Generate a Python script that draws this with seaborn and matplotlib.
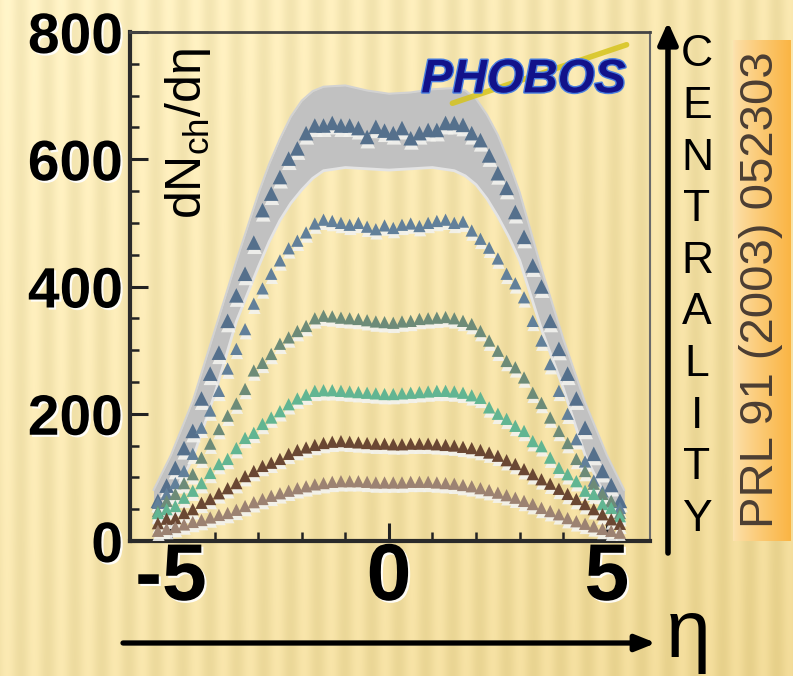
import numpy as np
import pandas as pd
import matplotlib
matplotlib.use("Agg")
import matplotlib.pyplot as plt
import matplotlib.patheffects as pe
from matplotlib.ticker import MultipleLocator
import seaborn as sns

W, H = 793, 676

# pseudorapidity bin centres
eta = [-5.3, -5.1, -4.9, -4.7, -4.5, -4.3, -4.1, -3.9, -3.7, -3.5, -3.3, -3.1, -2.9, -2.7,
       -2.5, -2.3, -2.1, -1.9, -1.7, -1.5, -1.3, -1.1, -0.9, -0.7, -0.5, -0.3, -0.1,
       0.1, 0.3, 0.5, 0.7, 0.9, 1.1, 1.3, 1.5, 1.7, 1.9, 2.1, 2.3, 2.5, 2.7,
       2.9, 3.1, 3.3, 3.5, 3.7, 3.9, 4.1, 4.3, 4.5, 4.7, 4.9, 5.1, 5.3]

centrality = ["0-6%", "6-15%", "15-25%", "25-35%", "35-45%", "45-55%"]

dn_0_6 = [63, 87, 115, 146, 173, 224, 263, 296, 346, 386, 420, 469, 520, 546, 572, 601, 617,
          641, 653, 653, 657, 653, 653, 649, 635, 651, 645,
          641, 649, 633, 641, 646, 646, 657, 657, 654,
          641, 630, 606, 578, 555, 517, 478, 433, 400, 346, 302, 263, 224, 178, 137, 110, 88, 63]
dn_6_15 = [60, 74, 91, 110, 137, 178, 205, 236, 271, 302, 333, 373, 397, 420, 441, 460, 472,
           485, 499, 505, 503, 500, 497, 500, 494, 490, 496,
           492, 497, 499, 495, 500, 503, 505, 500, 502,
           488, 475, 461, 444, 420, 405, 383, 346, 315, 278, 236, 200, 160, 125, 95, 78, 62, 52]
dn_15_25 = [47, 63, 74, 91, 105, 131, 153, 176, 197, 216, 239, 268, 280, 294, 310, 320, 330,
            338, 350, 354, 353, 351, 350, 349, 347, 345, 344,
            343, 345, 346, 349, 350, 351, 352, 350, 346,
            341, 330, 315, 299, 283, 273, 257, 233, 217, 194, 173, 154, 129, 110, 90, 74, 63, 44]
dn_25_35 = [44, 50, 55, 68, 79, 91, 107, 121, 129, 146, 162, 170, 184, 194, 204, 215, 224,
            230, 236, 237, 237, 236, 235, 234, 233, 232, 231,
            231, 232, 233, 234, 235, 236, 236, 235, 233,
            229, 225, 210, 200, 192, 181, 173, 157, 149, 131, 115, 105, 94, 79, 74, 58, 52, 39]
dn_35_45 = [28, 35, 36, 44, 50, 60, 66, 75, 83, 91, 102, 110, 118, 123, 129, 137, 143,
            147, 151, 154, 156, 157, 156, 155, 154, 153, 153,
            152, 152, 153, 153, 153, 152, 151, 150, 148,
            146, 143, 139, 134, 127, 121, 113, 105, 97, 90, 82, 74, 66, 58, 50, 42, 34, 27]
dn_45_55 = [16, 19, 22, 26, 30, 33, 37, 41, 44, 49, 55, 61, 66, 71, 75, 79, 83,
            86, 89, 91, 93, 94, 94, 94, 93, 92, 92,
            92, 92, 93, 93, 93, 92, 91, 90, 88,
            86, 83, 80, 76, 72, 68, 63, 58, 52, 47, 42, 36, 31, 27, 23, 19, 16, 13]

# systematic error band of the most central bin
band_eta = [-5.4, -5.0, -4.5, -4.0, -3.5, -3.0, -2.75, -2.5, -2.25, -2.0, -1.75, -1.5, -1.0,
            -0.5, 0.0, 0.5, 1.0, 1.5, 1.75, 2.0, 2.25, 2.5, 2.75, 3.0, 3.5, 4.0, 4.5, 5.0, 5.4]
band_hi = [80, 135, 220, 330, 440, 545, 592, 632, 667, 692, 707, 714, 716,
           708, 703, 705, 710, 712, 708, 695, 670, 638, 596, 548, 428, 318, 218, 135, 80]
band_lo = [28, 65, 130, 230, 345, 430, 470, 504, 531, 552, 570, 582, 587,
           585, 583, 585, 587, 582, 574, 560, 538, 510, 478, 441, 333, 240, 135, 65, 28]

colors = ["#55708c", "#62809a", "#6d8b78", "#62b592", "#6a4733", "#9c8272"]
sizes = {"0-6%": 110, "6-15%": 78, "15-25%": 78, "25-35%": 78, "35-45%": 78, "45-55%": 78}

series = [dn_0_6, dn_6_15, dn_15_25, dn_25_35, dn_35_45, dn_45_55]
df = pd.concat([pd.DataFrame({"eta": eta, "dndeta": s, "centrality": c})
                for s, c in zip(series, centrality)], ignore_index=True)

sns.set_theme(style="ticks")
plt.rcParams["font.family"] = ["Liberation Sans", "DejaVu Sans"]
plt.rcParams["mathtext.default"] = "regular"

fig = plt.figure(figsize=(W / 100, H / 100), dpi=100)

# slide background: warm yellow with soft vertical stripes
bg = fig.add_axes([0, 0, 1, 1], zorder=-10)
X, Y = np.meshgrid(np.arange(W), np.arange(H))
t = np.clip(0.5 * X / W + 0.5 * Y / H, 0, 1)[..., None]
c_top = np.array([0.99, 0.94, 0.76])
c_bot = np.array([0.93, 0.84, 0.57])
img = c_top * (1 - t) + c_bot * t
img = img + (0.025 * np.sin(2 * np.pi * X / 27.0))[..., None] * np.array([1.0, 1.0, 1.3])

# orange reference tag, painted into the same background image
tag_x = (X >= 733) & (X <= 790) & (Y >= 40) & (Y <= 540)
g = np.clip((X - 733) / 57.0, 0, 1) ** 0.8
tag_rgb = np.stack([0.99 - 0.01 * g, 0.89 - 0.18 * g, 0.69 - 0.42 * g], axis=-1)
img = np.where(tag_x[..., None], tag_rgb, img)
bg.imshow(np.clip(img, 0, 1), extent=[0, W, H, 0], aspect="auto", interpolation="bilinear")

bg.text(761, 290, "PRL 91 (2003) 052303", rotation=90, ha="center", va="center",
        fontsize=34, color="#4b3e33")

# centrality arrow and label
bg.annotate("", xy=(668, 22), xytext=(668, 553),
            arrowprops=dict(arrowstyle="-|>,head_length=1.0,head_width=0.45",
                            lw=4, color="black", shrinkA=0, shrinkB=0, mutation_scale=13))
for i, letter in enumerate("CENTRALITY"):
    bg.text(697, 55 + i * 51.6, letter, ha="center", va="center", fontsize=32, color="black")

# eta arrow
bg.annotate("", xy=(656, 643), xytext=(123, 643),
            arrowprops=dict(arrowstyle="-|>,head_length=1.0,head_width=0.4",
                            lw=3.8, color="black", shrinkA=0, shrinkB=0, mutation_scale=12))
bg.text(688, 657, "η", ha="center", va="baseline", fontsize=58, color="black")

bg.set_xlim(0, W)
bg.set_ylim(H, 0)
bg.axis("off")

ax = fig.add_axes([130 / W, 1 - 541 / H, 520 / W, 509 / H])
ax.set_facecolor("none")

ax.fill_between(band_eta, band_lo, band_hi, color="#c1c1c1", lw=0, zorder=1)
ax.plot(band_eta, band_lo, color="#e4e4e4", lw=2, zorder=1.5)
ax.plot(band_eta, band_hi, color="#d2d2d2", lw=1.5, zorder=1.5)

sns.scatterplot(data=df, x="eta", y="dndeta", hue="centrality", palette=colors,
                size="centrality", sizes=sizes, marker="^", edgecolor="none",
                legend=False, ax=ax, zorder=3)
ax.collections[-1].set_path_effects([
    pe.SimplePatchShadow(offset=(0.5, -3), shadow_rgbFace="#f3f3ef", alpha=0.9),
    pe.Normal()])

ax.set_xlim(-5.94, 5.99)
ax.set_ylim(0, 800)
ax.set_xticks([-5, 0, 5])
ax.set_xticklabels(["-5", "0", "5"])
ax.set_yticks([0, 200, 400, 600, 800])
ax.set_yticklabels(["0", "200", "400", "600", "800"])
ax.xaxis.set_minor_locator(MultipleLocator(1))
ax.yaxis.set_minor_locator(MultipleLocator(50))
ax.tick_params(which="major", direction="in", length=13, width=2.2, color="#222222")
ax.tick_params(which="minor", direction="in", length=6.5, width=1.8, color="#222222")
ax.tick_params(axis="y", labelsize=41, pad=5)
ax.tick_params(axis="x", labelsize=58, pad=0)
shadow = [pe.withSimplePatchShadow(offset=(1.5, -1.5), shadow_rgbFace="white", alpha=0.9)]
for lab in ax.get_xticklabels() + ax.get_yticklabels():
    lab.set_fontweight("bold")
    lab.set_color("black")
    lab.set_path_effects(shadow)
ax.set_xlabel("")
ax.set_ylabel("")

for side in ["left", "bottom"]:
    ax.spines[side].set_linewidth(3)
    ax.spines[side].set_color("#2a2a2a")
ax.spines["top"].set_linewidth(2)
ax.spines["top"].set_color("#444444")
ax.spines["right"].set_linewidth(1.5)
ax.spines["right"].set_color("#6a6a6a")

ax.text(0.112, 0.80, "dN$_{ch}$/dη", transform=ax.transAxes, rotation=90,
        ha="center", va="center", fontsize=36, color="black")

# experiment logo
ax.text(0.757, 0.905, "PHOBOS", transform=ax.transAxes, ha="center", va="center",
        fontsize=34, fontweight="bold", fontstyle="italic", color="#12128a",
        path_effects=[pe.withStroke(linewidth=2, foreground="#4a7fe0")], zorder=5)
ax.plot([0.62, 0.955], [0.86, 0.975], transform=ax.transAxes, color="#d6c41c",
        lw=4, solid_capstyle="round", alpha=0.85, zorder=4)

fig.savefig("out.png", dpi=100)
